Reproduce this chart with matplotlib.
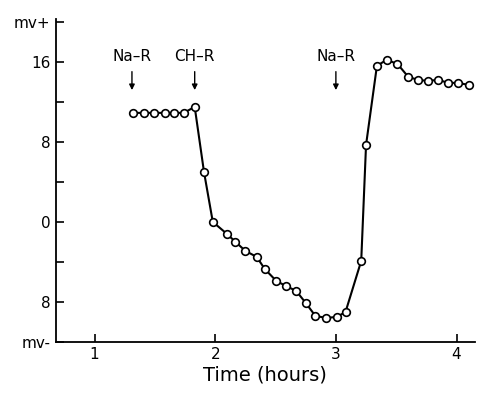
import matplotlib
matplotlib.use("Agg")
import matplotlib.pyplot as plt

time_h = [1.32, 1.41, 1.49, 1.58, 1.66, 1.74, 1.83, 1.907, 1.98,
          2.097, 2.168, 2.25, 2.344, 2.41, 2.506, 2.585, 2.671, 2.75,
          2.83, 2.92, 3.01, 3.08, 3.21, 3.25, 3.34, 3.42, 3.51, 3.60,
          3.68, 3.76, 3.85, 3.93, 4.01, 4.10]
mv = [10.9, 10.9, 10.9, 10.9, 10.9, 10.9, 11.5, 5.0, 0.0,
      -1.2, -2.0, -2.9, -3.5, -4.7, -5.9, -6.4, -6.9, -8.1,
      -9.4, -9.6, -9.5, -9.0, -3.9, 7.7, 15.6, 16.2, 15.8, 14.5,
      14.2, 14.1, 14.2, 13.9, 13.9, 13.7]

ytick_pos = [20, 16, 8, 0, -8, -12]
ytick_lab = ["mv+", "16", "8", "0", "8", "mv-"]
yminor = [12, 4, -4]
xtick_pos = [1, 2, 3, 4]
xtick_lab = ["1", "2", "3", "4"]

ann_labels = ["Na\u2013R", "CH\u2013R", "Na\u2013R"]
ann_x = [1.31, 1.83, 3.0]

fig = plt.figure(figsize=(4.78, 3.93), dpi=100)
ax = fig.add_axes([0.117, 0.130, 0.876, 0.822])
ax.plot(time_h, mv, color="black", lw=1.5, marker="o", ms=5.5,
        mfc="white", mec="black", mew=1.2, zorder=3)

ax.set_xlim(0.68, 4.15)
ax.set_ylim(-12, 20.3)
ax.set_yticks(ytick_pos)
ax.set_yticklabels(ytick_lab)
ax.set_yticks(yminor, minor=True)
ax.set_xticks(xtick_pos)
ax.set_xticklabels(xtick_lab)
ax.tick_params(axis="both", which="major", direction="in", length=6,
               width=1.2, labelsize=11, pad=4)
ax.tick_params(axis="y", which="minor", direction="in", length=6, width=1.2)
for s in ["top", "right"]:
    ax.spines[s].set_visible(False)
for s in ["left", "bottom"]:
    ax.spines[s].set_linewidth(1.3)
ax.set_xlabel("Time (hours)", fontsize=14, labelpad=2)

for lab, x in zip(ann_labels, ann_x):
    ax.text(x, 16.5, lab, ha="center", va="center", fontsize=11)
    ax.annotate("", xy=(x, 12.9), xytext=(x, 15.3),
                arrowprops=dict(arrowstyle="-|>", color="black", lw=1.0,
                                mutation_scale=8))

fig.savefig("out.png", dpi=100)
